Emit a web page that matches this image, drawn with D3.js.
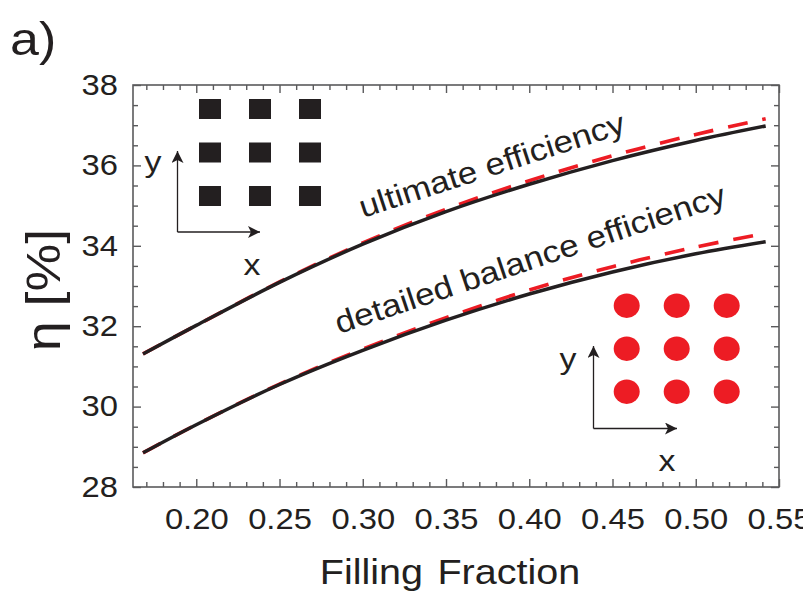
<!DOCTYPE html>
<html><head><meta charset="utf-8">
<script src="https://cdn.jsdelivr.net/npm/d3@7"></script>
<style>
html,body{margin:0;padding:0;background:#fff;}
text{font-family:"Liberation Sans",Arial,Helvetica,sans-serif;fill:#231f20;}
</style></head>
<body>
<svg id="c" width="803" height="592"></svg>
<script>
// ---- data ----
const fillingFraction = [0.168, 0.20, 0.25, 0.30, 0.35, 0.40, 0.45, 0.50, 0.542];
const ultimateSquare  = [31.31, 32.02, 33.09, 34.04, 34.85, 35.53, 36.12, 36.62, 36.98];
const ultimateCircle  = [31.31, 32.02, 33.10, 34.07, 34.91, 35.62, 36.24, 36.77, 37.16];
const balanceSquare   = [28.85, 29.55, 30.55, 31.40, 32.15, 32.80, 33.35, 33.80, 34.10];
const balanceCircle   = [28.85, 29.55, 30.56, 31.43, 32.21, 32.90, 33.48, 33.97, 34.31];
const xMajorTicks = [0.20, 0.25, 0.30, 0.35, 0.40, 0.45, 0.50, 0.55];
const xMinorTicks = [0.17,0.18,0.19,0.21,0.22,0.23,0.24,0.26,0.27,0.28,0.29,0.31,0.32,0.33,0.34,0.36,0.37,0.38,0.39,0.41,0.42,0.43,0.44,0.46,0.47,0.48,0.49,0.51,0.52,0.53,0.54];
const yMajorTicks = [28, 30, 32, 34, 36, 38];
const yMinorTicks = [28.5,29,29.5,30.5,31,31.5,32.5,33,33.5,34.5,35,35.5,36.5,37,37.5];
const gridIdx = [0, 1, 2]; // 3x3 lattice insets

const svg = d3.select("#c");
const L = 133, R = 779, T = 85, B = 487;
const SX = 1.13; // horizontal text stretch of the original figure
const x = d3.scaleLinear().domain([0.162, 0.55]).range([L, R]);
const y = d3.scaleLinear().domain([28, 38]).range([B, T]);
const axisColor = "#5a5a5c";

function styleAxis(g){
  g.select(".domain").remove();
  g.selectAll(".tick line").attr("stroke", axisColor).attr("stroke-width", 1.4);
  g.selectAll("text").style("font-size","29px").attr("fill","#231f20");
}
// bottom
svg.append("g").attr("transform",`translate(0,${B})`)
  .call(d3.axisBottom(x).tickValues(xMinorTicks).tickSize(-5).tickFormat("")).call(styleAxis);
svg.append("g").attr("transform",`translate(0,${B})`)
  .call(d3.axisBottom(x).tickValues(xMajorTicks).tickSize(-8).tickPadding(21).tickFormat(d3.format(".2f")))
  .call(styleAxis).call(g=>g.selectAll("text").attr("transform",`scale(${SX},1)`));
// top
svg.append("g").attr("transform",`translate(0,${T})`)
  .call(d3.axisTop(x).tickValues(xMinorTicks).tickSize(-5).tickFormat("")).call(styleAxis);
svg.append("g").attr("transform",`translate(0,${T})`)
  .call(d3.axisTop(x).tickValues(xMajorTicks).tickSize(-8).tickFormat("")).call(styleAxis);
// left
svg.append("g").attr("transform",`translate(${L},0)`)
  .call(d3.axisLeft(y).tickValues(yMinorTicks).tickSize(-5).tickFormat("")).call(styleAxis);
svg.append("g").attr("transform",`translate(${L},0)`)
  .call(d3.axisLeft(y).tickValues(yMajorTicks).tickSize(-8).tickPadding(15).tickFormat(d3.format("d")))
  .call(styleAxis).call(g=>g.selectAll("text").attr("x",-15/SX).attr("transform",`scale(${SX},1)`));
// right
svg.append("g").attr("transform",`translate(${R},0)`)
  .call(d3.axisRight(y).tickValues(yMinorTicks).tickSize(-5).tickFormat("")).call(styleAxis);
svg.append("g").attr("transform",`translate(${R},0)`)
  .call(d3.axisRight(y).tickValues(yMajorTicks).tickSize(-8).tickFormat("")).call(styleAxis);
// frame
svg.append("rect").attr("x",L).attr("y",T).attr("width",R-L).attr("height",B-T)
  .attr("fill","none").attr("stroke",axisColor).attr("stroke-width",1.6);

// curves
const line = d3.line().x((d,i)=>x(fillingFraction[i])).y(d=>y(d)).curve(d3.curveCatmullRom.alpha(0.5));
[ultimateCircle, balanceCircle].forEach(s=>{
  svg.append("path").attr("d", line(s)).attr("fill","none").attr("stroke","#ed1c24")
    .attr("stroke-width",3.6).attr("stroke-dasharray","20,15");
});
[ultimateSquare, balanceSquare].forEach(s=>{
  svg.append("path").attr("d", line(s)).attr("fill","none").attr("stroke","#231f20")
    .attr("stroke-width",3.5);
});

// annotations
svg.append("text").attr("transform",`translate(363,218) rotate(-18) scale(${SX},1)`)
  .style("font-size","31px").text("ultimate efficiency");
svg.append("text").attr("transform",`translate(339,334) rotate(-18.5) scale(${SX},1)`)
  .style("font-size","31px").text("detailed balance efficiency");

// arrow marker
svg.append("defs").append("marker").attr("id","ah").attr("viewBox","0 0 10 10")
  .attr("refX",10).attr("refY",5).attr("markerWidth",12).attr("markerHeight",12)
  .attr("markerUnits","userSpaceOnUse").attr("orient","auto")
  .append("path").attr("d","M0,0 L10,5 L0,10 L2.5,5 Z").attr("fill","#231f20");

// square lattice inset
const sqX = d3.scalePoint().domain(gridIdx).range([210, 310]);
const sqY = d3.scalePoint().domain(gridIdx).range([109, 196]);
gridIdx.forEach(r=>gridIdx.forEach(c=>{
  svg.append("rect").attr("x",sqX(c)-11).attr("y",sqY(r)-10).attr("width",22).attr("height",20).attr("fill","#231f20");
}));
svg.append("line").attr("x1",177.5).attr("y1",232).attr("x2",177.5).attr("y2",151)
  .attr("stroke","#231f20").attr("stroke-width",1.3).attr("marker-end","url(#ah)");
svg.append("line").attr("x1",177.5).attr("y1",232).attr("x2",260).attr("y2",232)
  .attr("stroke","#231f20").attr("stroke-width",1.3).attr("marker-end","url(#ah)");
svg.append("text").attr("transform",`translate(153,172) scale(${SX},1)`).attr("text-anchor","middle").style("font-size","30px").text("y");
svg.append("text").attr("transform",`translate(252,275) scale(${SX},1)`).attr("text-anchor","middle").style("font-size","30px").text("x");

// circle lattice inset
const ciX = d3.scalePoint().domain(gridIdx).range([626.7, 726.7]);
const ciY = d3.scalePoint().domain(gridIdx).range([305.7, 391.7]);
gridIdx.forEach(r=>gridIdx.forEach(c=>{
  svg.append("ellipse").attr("cx",ciX(c)).attr("cy",ciY(r)).attr("rx",13).attr("ry",12.2).attr("fill","#ed1c24");
}));
svg.append("line").attr("x1",593.5).attr("y1",428.5).attr("x2",593.5).attr("y2",346)
  .attr("stroke","#231f20").attr("stroke-width",1.3).attr("marker-end","url(#ah)");
svg.append("line").attr("x1",593.5).attr("y1",428.5).attr("x2",677).attr("y2",428.5)
  .attr("stroke","#231f20").attr("stroke-width",1.3).attr("marker-end","url(#ah)");
svg.append("text").attr("transform",`translate(568,369) scale(${SX},1)`).attr("text-anchor","middle").style("font-size","30px").text("y");
svg.append("text").attr("transform",`translate(667,471) scale(${SX},1)`).attr("text-anchor","middle").style("font-size","30px").text("x");

// axis titles
svg.append("text").attr("transform",`translate(450,584) scale(${SX},1)`).attr("text-anchor","middle")
  .style("font-size","35px").style("word-spacing","3px").text("Filling Fraction");
svg.append("text").attr("transform","translate(60,290) rotate(-90) scale(1.12,1)").attr("text-anchor","middle")
  .style("font-size","48px").text("η [%]");
svg.append("text").attr("transform",`translate(10,55) scale(${SX},1)`).style("font-size","46px").text("a)");
</script>
</body></html>
